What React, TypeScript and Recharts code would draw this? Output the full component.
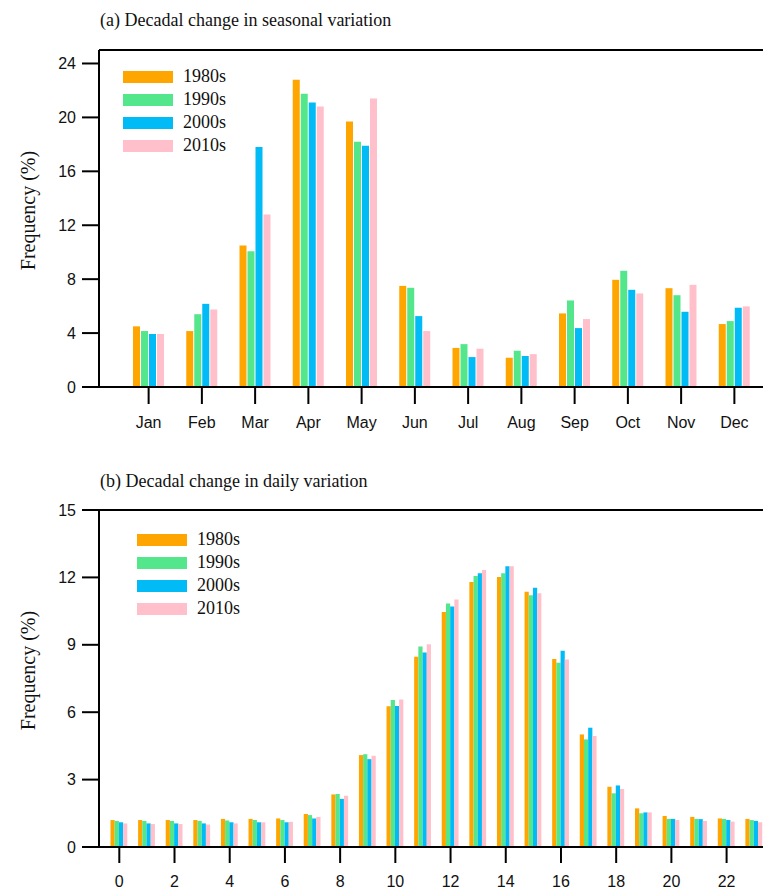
import { BarChart, Bar, XAxis, YAxis, Legend, Label, ReferenceLine } from "recharts";

const months = ["Jan", "Feb", "Mar", "Apr", "May", "Jun", "Jul", "Aug", "Sep", "Oct", "Nov", "Dec"];
const month1980s = [4.5, 4.15, 10.5, 22.8, 19.7, 7.5, 2.9, 2.17, 5.46, 7.95, 7.33, 4.67];
const month1990s = [4.15, 5.4, 10.07, 21.75, 18.2, 7.36, 3.18, 2.69, 6.42, 8.62, 6.81, 4.89];
const month2000s = [3.93, 6.17, 17.8, 21.1, 17.9, 5.26, 2.22, 2.3, 4.37, 7.21, 5.58, 5.88];
const month2010s = [3.93, 5.75, 12.8, 20.8, 21.4, 4.15, 2.84, 2.44, 5.04, 6.94, 7.58, 5.98];

const hours = ["0", "1", "2", "3", "4", "5", "6", "7", "8", "9", "10", "11", "12", "13", "14", "15", "16", "17", "18", "19", "20", "21", "22", "23"];
const hour1980s = [1.2, 1.2, 1.2, 1.2, 1.25, 1.25, 1.27, 1.47, 2.34, 4.09, 6.27, 8.47, 10.46, 11.79, 12.02, 11.36, 8.37, 5.01, 2.68, 1.72, 1.38, 1.34, 1.27, 1.25];
const hour1990s = [1.16, 1.16, 1.16, 1.16, 1.18, 1.2, 1.2, 1.42, 2.36, 4.13, 6.54, 8.92, 10.84, 12.06, 12.18, 11.2, 8.2, 4.79, 2.39, 1.5, 1.25, 1.25, 1.25, 1.2];
const hour2000s = [1.1, 1.05, 1.05, 1.05, 1.1, 1.1, 1.1, 1.27, 2.14, 3.91, 6.28, 8.66, 10.7, 12.18, 12.5, 11.54, 8.74, 5.31, 2.74, 1.54, 1.25, 1.24, 1.2, 1.16];
const hour2010s = [1.05, 1.02, 1.02, 1.0, 1.05, 1.1, 1.12, 1.34, 2.28, 4.06, 6.57, 9.03, 11.02, 12.33, 12.5, 11.29, 8.35, 4.94, 2.58, 1.54, 1.2, 1.16, 1.13, 1.1];

const decades = ["1980s", "1990s", "2000s", "2010s"];
const colors = ["#FFA500", "#54E68A", "#00BBF5", "#FFC0CB"];

const monthTicks = [0, 4, 8, 12, 16, 20, 24];
const monthMinor = Array.from({ length: 26 }, (_, i) => i);
const hourTicks = [0, 3, 6, 9, 12, 15];
const hourMinor = Array.from({ length: 16 }, (_, i) => i);

const seasonal = months.map((m, i) => ({
  month: m,
  "1980s": month1980s[i],
  "1990s": month1990s[i],
  "2000s": month2000s[i],
  "2010s": month2010s[i],
}));

const daily = hours.map((h, i) => ({
  hour: h,
  "1980s": hour1980s[i],
  "1990s": hour1990s[i],
  "2000s": hour2000s[i],
  "2010s": hour2010s[i],
}));

const serif = "'Liberation Serif', 'Times New Roman', serif";
const sans = "'Liberation Sans', Arial, sans-serif";
const line = { stroke: "#000", strokeWidth: 2 };
const tickFont = { fontFamily: sans, fontSize: 16, fill: "#111" };

const renderLegend = (props: any) => (
  <div>
    {props.payload.map((p: any) => (
      <div key={p.value} style={{ display: "flex", alignItems: "center", height: 23 }}>
        <div style={{ width: 50, height: 12, background: p.color, marginRight: 10 }} />
        <span style={{ fontFamily: serif, fontSize: 18, color: "#111" }}>{p.value}</span>
      </div>
    ))}
  </div>
);

const yLabel = (props: any) => {
  const vb = props.viewBox;
  const cx = vb.x + 28;
  const cy = vb.y + vb.height / 2 - 8;
  return (
    <text
      x={cx}
      y={cy}
      transform={`rotate(-90, ${cx}, ${cy})`}
      textAnchor="middle"
      dominantBaseline="central"
      fontFamily={serif}
      fontSize={20}
      fill="#111"
    >
      Frequency (%)
    </text>
  );
};

const titleStyle = {
  position: "absolute" as const,
  left: 100,
  fontFamily: serif,
  fontSize: 18,
  color: "#111",
  whiteSpace: "nowrap" as const,
};

export default function App() {
  return (
    <div style={{ position: "absolute", left: 0, top: 0, width: 763, height: 893, overflow: "hidden", background: "#fff" }}>
      <div style={{ ...titleStyle, top: 10 }}>(a) Decadal change in seasonal variation</div>
      <div style={{ position: "absolute", left: 0, top: 0 }}>
        <BarChart width={763} height={440} data={seasonal} margin={{ top: 50, right: 0, bottom: 3, left: 0 }} barSize={7} barGap={1}>
          <XAxis
            dataKey="month"
            height={50}
            padding={{ left: 23, right: 2 }}
            axisLine={line}
            tickLine={line}
            tickSize={17}
            tickMargin={13}
            tick={tickFont}
            interval={0}
          />
          <YAxis
            yAxisId="major"
            width={99}
            domain={[0, 25]}
            ticks={monthTicks}
            axisLine={line}
            tickLine={line}
            tickSize={17}
            tickMargin={6}
            tick={tickFont}
          >
            <Label content={yLabel} />
          </YAxis>
          <YAxis yAxisId="minor" width={0} domain={[0, 25]} ticks={monthMinor} axisLine={false} tickLine={line} tickSize={8} tick={false} />
          <ReferenceLine yAxisId="major" y={25} stroke="#000" strokeWidth={2} />
          <Legend
            layout="vertical"
            align="center"
            verticalAlign="middle"
            wrapperStyle={{ top: 65, left: 123, width: 120 }}
            content={renderLegend}
          />
          {decades.map((d, i) => (
            <Bar key={d} yAxisId="major" dataKey={d} name={d} fill={colors[i]} isAnimationActive={false} />
          ))}
        </BarChart>
      </div>

      <div style={{ ...titleStyle, top: 471 }}>(b) Decadal change in daily variation</div>
      <div style={{ position: "absolute", left: 0, top: 460 }}>
        <BarChart width={768} height={433} data={daily} margin={{ top: 50, right: 0, bottom: 2, left: 0 }} barSize={4.2} barGap={0}>
          <XAxis
            dataKey="hour"
            height={44}
            padding={{ left: 6.5, right: 0 }}
            axisLine={line}
            tickLine={line}
            tickSize={16}
            tickMargin={13}
            tick={tickFont}
            interval={1}
          />
          <YAxis
            yAxisId="major"
            width={99}
            domain={[0, 15]}
            ticks={hourTicks}
            axisLine={line}
            tickLine={line}
            tickSize={17}
            tickMargin={6}
            tick={tickFont}
          >
            <Label content={yLabel} />
          </YAxis>
          <YAxis yAxisId="minor" width={0} domain={[0, 15]} ticks={hourMinor} axisLine={false} tickLine={line} tickSize={8} tick={false} />
          <ReferenceLine yAxisId="major" y={15} stroke="#000" strokeWidth={2} />
          <Legend
            layout="vertical"
            align="center"
            verticalAlign="middle"
            wrapperStyle={{ top: 68, left: 137, width: 120 }}
            content={renderLegend}
          />
          {decades.map((d, i) => (
            <Bar key={d} yAxisId="major" dataKey={d} name={d} fill={colors[i]} isAnimationActive={false} />
          ))}
        </BarChart>
      </div>
    </div>
  );
}
